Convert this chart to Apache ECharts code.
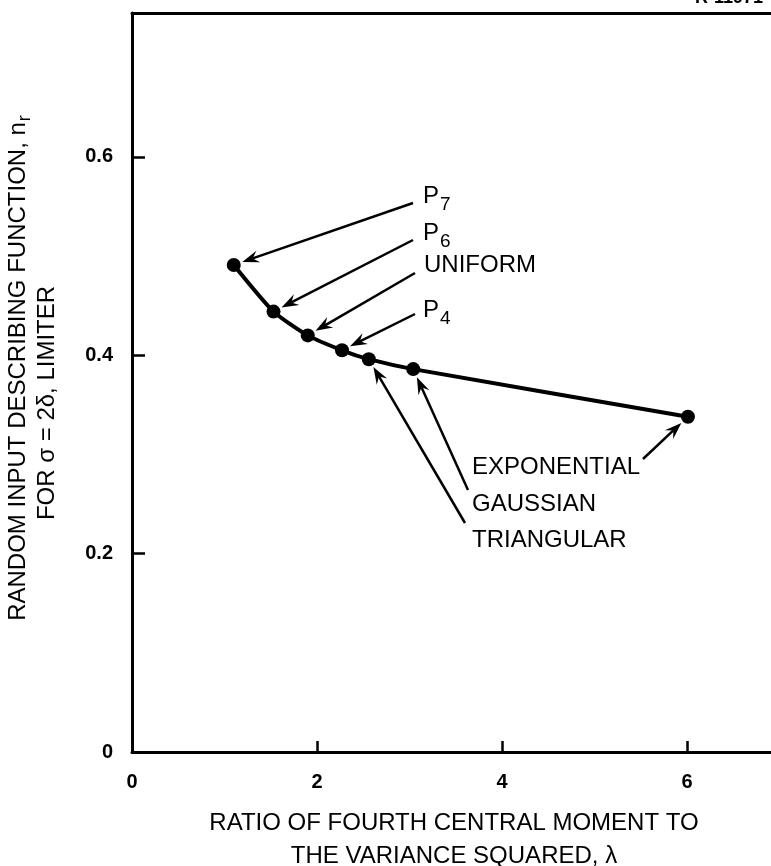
<!DOCTYPE html>
<html><head><meta charset="utf-8">
<script src="https://cdn.jsdelivr.net/npm/echarts@6/dist/echarts.min.js"></script>
<style>html,body{margin:0;padding:0;background:#fff}#c{width:771px;height:866px}</style>
</head><body><div id="c"></div>
<script>
// ---- data ----
const pointNames = ['P7', 'P6', 'UNIFORM', 'P4', 'TRIANGULAR', 'GAUSSIAN', 'EXPONENTIAL'];
const lambdaValues = [1.10, 1.53, 1.90, 2.27, 2.56, 3.04, 6.01];
const nrValues = [0.491, 0.444, 0.420, 0.405, 0.396, 0.386, 0.338];
const xTickValues = [0, 2, 4, 6];
const yTickValues = [0, 0.2, 0.4, 0.6];
const xTitleLines = ['RATIO OF FOURTH CENTRAL MOMENT TO', 'THE VARIANCE SQUARED, λ'];
const yTitleLine1 = ['RANDOM INPUT DESCRIBING FUNCTION, n', 'r'];
const yTitleLine2 = 'FOR σ = 2δ, LIMITER';
const docCode = 'R-11971';
const annoText = [['P', '7'], ['P', '6'], ['UNIFORM', ''], ['P', '4'], ['TRIANGULAR', ''], ['GAUSSIAN', ''], ['EXPONENTIAL', '']];

// ---- layout (pixels) ----
const annoLayout = [
  { x: 423, y: 196, ax: 413, ay: 203 },
  { x: 423, y: 233, ax: 413, ay: 240 },
  { x: 424, y: 265, ax: 415, ay: 273 },
  { x: 423, y: 310, ax: 415, ay: 314 },
  { x: 472, y: 540, ax: 465, ay: 523 },
  { x: 472, y: 504, ax: 468, ay: 490 },
  { x: 472, y: 467, ax: 643, ay: 459 }
];
const FONT = "'Liberation Sans', Arial, Helvetica, sans-serif";
const FS = 24;

const chart = echarts.init(document.getElementById('c'), null, { renderer: 'canvas' });
const seriesData = lambdaValues.map((x, i) => [x, nrValues[i]]);

chart.setOption({
  backgroundColor: '#fff',
  animation: false,
  grid: { left: 132, right: 0, top: 13, bottom: 114, containLabel: false },
  xAxis: [{
    type: 'value', min: 0, max: 6.908, interval: 2,
    axisLine: { show: true, onZero: false, lineStyle: { color: '#000', width: 3 } },
    axisTick: { show: true, inside: true, length: 11, customValues: xTickValues, lineStyle: { color: '#000', width: 2.5 } },
    axisLabel: { customValues: xTickValues, margin: 20, color: '#000', fontSize: 20, fontWeight: 'bold', fontFamily: FONT },
    splitLine: { show: false }
  }, {
    type: 'value', position: 'top', min: 0, max: 6.908,
    axisLine: { show: true, onZero: false, lineStyle: { color: '#000', width: 3 } },
    axisTick: { show: false }, axisLabel: { show: false }, splitLine: { show: false }
  }],
  yAxis: {
    type: 'value', min: 0, max: 0.745, interval: 0.2,
    axisLine: { show: true, onZero: false, lineStyle: { color: '#000', width: 3 } },
    axisTick: { show: true, inside: true, length: 13, customValues: yTickValues.slice(1), lineStyle: { color: '#000', width: 2.5 } },
    axisLabel: { customValues: yTickValues, margin: 19, color: '#000', fontSize: 20, fontWeight: 'bold', fontFamily: FONT,
      formatter: v => (v === 0 ? '0' : v.toFixed(1)) },
    splitLine: { show: false }
  },
  series: [{
    type: 'line', xAxisIndex: 0, data: seriesData, smooth: 0.2,
    symbol: 'circle', symbolSize: 14,
    itemStyle: { color: '#000' },
    lineStyle: { color: '#000', width: 4 },
    z: 5
  }]
});

// ---- annotations ----
function arrow(sx, sy, tx, ty, gap) {
  const dx = tx - sx, dy = ty - sy, L = Math.hypot(dx, dy);
  const ux = dx / L, uy = dy / L;
  const ex = tx - ux * gap, ey = ty - uy * gap;
  const hl = 17, hw = 6, notch = 11;
  const bx = ex - ux * hl, by = ey - uy * hl;
  const nx = -uy, ny = ux;
  const mid = [ex - ux * notch, ey - uy * notch];
  return [
    { type: 'line', shape: { x1: sx, y1: sy, x2: mid[0], y2: mid[1] }, style: { stroke: '#000', lineWidth: 2.5 }, z: 10 },
    { type: 'polygon', shape: { points: [[ex, ey], [bx + nx * hw, by + ny * hw], mid, [bx - nx * hw, by - ny * hw]] }, style: { fill: '#000' }, z: 10 }
  ];
}

const graphics = [];
annoText.forEach((t, i) => {
  const L = annoLayout[i];
  const pix = chart.convertToPixel({ seriesIndex: 0 }, seriesData[i]);
  if (t[1]) {
    graphics.push({
      type: 'text', x: L.x, y: L.y - 12, z: 10,
      style: {
        text: '{p|' + t[0] + '}{s|' + t[1] + '}', verticalAlign: 'top', align: 'left',
        rich: {
          p: { fontSize: FS, lineHeight: 24, verticalAlign: 'top', fontFamily: FONT, fill: '#000' },
          s: { fontSize: 19, padding: [11, 0, 0, 1], verticalAlign: 'bottom', fontFamily: FONT, fill: '#000' }
        }
      }
    });
  } else {
    graphics.push({
      type: 'text', x: L.x, y: L.y, z: 10,
      style: { text: t[0], fontSize: FS, fontFamily: FONT, fill: '#000', align: 'left', verticalAlign: 'middle' }
    });
  }
  graphics.push(...arrow(L.ax, L.ay, pix[0], pix[1], 9));
});

// x axis title
graphics.push({ type: 'text', x: 454, y: 823, style: { text: xTitleLines[0], fontSize: FS, fontFamily: FONT, fill: '#000', align: 'center', verticalAlign: 'middle' } });
graphics.push({ type: 'text', x: 454, y: 856, style: { text: xTitleLines[1], fontSize: FS, fontFamily: FONT, fill: '#000', align: 'center', verticalAlign: 'middle' } });

// y axis title (rotated)
graphics.push({
  type: 'text', x: 20, y: 368, rotation: Math.PI / 2,
  style: {
    text: '{m|' + yTitleLine1[0] + '}{s|' + yTitleLine1[1] + '}', align: 'center', verticalAlign: 'middle',
    rich: {
      m: { fontSize: FS, lineHeight: 24, verticalAlign: 'top', fontFamily: FONT, fill: '#000' },
      s: { fontSize: 18, padding: [10, 0, 0, 1], verticalAlign: 'bottom', fontFamily: FONT, fill: '#000' }
    }
  }
});
graphics.push({ type: 'text', x: 47, y: 403, rotation: Math.PI / 2, style: { text: yTitleLine2, fontSize: FS, fontFamily: FONT, fill: '#000', align: 'center', verticalAlign: 'middle' } });

// document code at top right (cropped in original)
graphics.push({ type: 'text', x: 695, y: 7, style: { text: docCode, fontSize: 18, fontWeight: 'bold', fontFamily: FONT, fill: '#000', align: 'left', verticalAlign: 'bottom' } });

chart.setOption({ graphic: { elements: graphics } });
</script></body></html>
